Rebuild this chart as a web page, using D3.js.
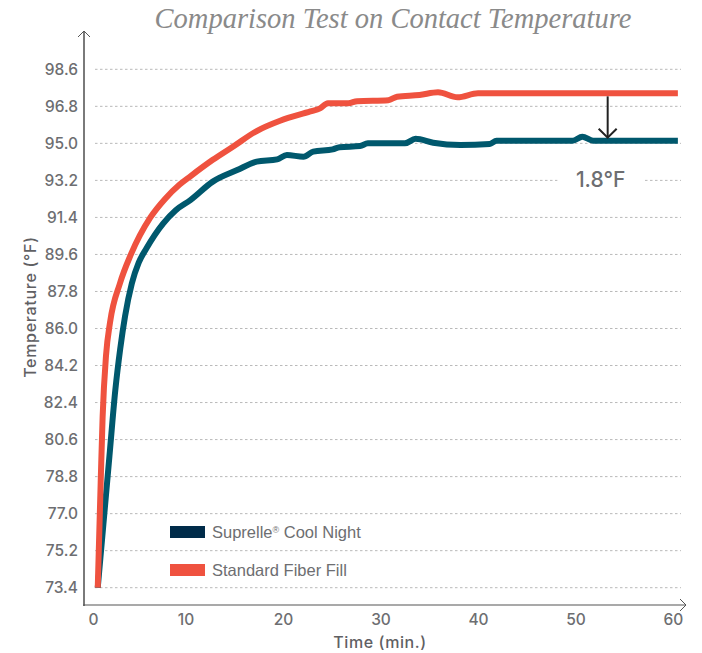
<!DOCTYPE html>
<html>
<head>
<meta charset="utf-8">
<script src="https://cdn.jsdelivr.net/npm/d3@7/dist/d3.min.js"></script>
<style>
  html, body { margin: 0; padding: 0; background: #fff; }
  svg { display: block; }
</style>
</head>
<body>
<script>
// ---- data ----
const title = "Comparison Test on Contact Temperature";
const yTickValues = [73.4, 75.2, 77.0, 78.8, 80.6, 82.4, 84.2, 86.0, 87.8, 89.6, 91.4, 93.2, 95.0, 96.8, 98.6];
const xTickValues = [0, 10, 20, 30, 40, 50, 60];
const seriesNames = ["Suprelle® Cool Night", "Standard Fiber Fill"];

const timeStandard = [1, 1.3, 1.5, 1.85, 2.26, 3.28, 4.4, 6.4, 7.9, 9.4, 10.5, 12.8, 14.9, 17.3, 19.7, 22.8, 23.8, 24.6, 26.7, 27.6, 30.8, 31.7, 34.0, 35.9, 37.9, 40.0, 60.5];
const valueStandard = [73.4, 78.5, 81.7, 84.7, 86.3, 88.2, 89.6, 91.4, 92.3, 93.0, 93.4, 94.2, 94.85, 95.6, 96.1, 96.55, 96.7, 96.95, 96.95, 97.05, 97.1, 97.27, 97.35, 97.48, 97.24, 97.43, 97.43];

const timeSuprelle = [1, 2.2, 2.8, 3.3, 3.8, 4.5, 5.2, 6.0, 7.7, 9.0, 10.5, 12.8, 15.3, 17.3, 19.4, 20.4, 22.1, 23.1, 25.1, 25.8, 27.9, 28.7, 32.5, 33.6, 35.4, 38.2, 41.2, 41.9, 49.7, 50.7, 51.8, 60.5];
const valueSuprelle = [73.4, 79.8, 83.0, 85.0, 86.6, 88.2, 89.2, 89.9, 91.1, 91.75, 92.24, 93.14, 93.7, 94.11, 94.22, 94.43, 94.35, 94.6, 94.71, 94.81, 94.87, 95.0, 95.0, 95.22, 95.03, 94.92, 94.97, 95.13, 95.13, 95.32, 95.13, 95.13];

const annotationTime = 53.3;
const annotationLabel = "1.8°F";

// ---- layout ----
const W = 702, H = 653;
const colors = { std: "#EF523F", sup: "#00586D", supLegend: "#002B49", text: "#6d6e71" };

const svg = d3.select("body").append("svg").attr("width", W).attr("height", H);

const x = d3.scaleLinear().domain([0, 60]).range([88, 673]);
const y = d3.scaleLinear().domain([73.4, 98.6]).range([587.7, 69.3]);

const fontMain = "Inter, 'Noto Sans', sans-serif";

// title
svg.append("text")
  .attr("x", 393).attr("y", 28)
  .attr("text-anchor", "middle")
  .attr("font-family", "'Liberation Serif', 'DejaVu Serif', serif")
  .attr("font-style", "italic")
  .attr("font-size", 29)
  .attr("fill", "#8a8a8a")
  .attr("textLength", 477)
  .attr("lengthAdjust", "spacingAndGlyphs")
  .text(title);

// gridlines
svg.append("g").selectAll("line").data(yTickValues).join("line")
  .attr("x1", 95).attr("x2", 681)
  .attr("y1", d => y(d)).attr("y2", d => y(d))
  .attr("stroke", "#b9b9b9").attr("stroke-width", 1)
  .attr("stroke-dasharray", "2.5,2.5");

// y axis labels
const yAxis = d3.axisLeft(y).tickValues(yTickValues).tickSize(0).tickPadding(6)
  .tickFormat(d3.format(".1f"));
const gy = svg.append("g").attr("transform", "translate(84,0)").call(yAxis);
gy.select(".domain").remove();
gy.selectAll("text")
  .attr("font-family", fontMain).attr("font-size", 15.5).attr("font-weight", 500)
  .attr("fill", colors.text);

// x axis labels
const xAxis = d3.axisBottom(x).tickValues(xTickValues).tickSize(0).tickPadding(0);
const gx = svg.append("g").attr("transform", "translate(0,605)").call(xAxis);
gx.select(".domain").remove();
gx.selectAll("text")
  .attr("dy", null).attr("y", 20)
  .attr("font-family", fontMain).attr("font-size", 15.5).attr("font-weight", 500)
  .attr("fill", colors.text);
gx.selectAll(".tick").filter(d => d === 0).select("text").attr("dx", 5);

// axis lines with arrows
svg.append("line").attr("x1", 84).attr("x2", 84).attr("y1", 606).attr("y2", 31)
  .attr("stroke", "#7a7a7a").attr("stroke-width", 2);
svg.append("path").attr("d", "M78,37 L84,31 L90,37").attr("fill", "none")
  .attr("stroke", "#555").attr("stroke-width", 1);
svg.append("line").attr("x1", 83).attr("x2", 686).attr("y1", 605).attr("y2", 605)
  .attr("stroke", "#555").attr("stroke-width", 1.2);
svg.append("path").attr("d", "M680,599 L686,605 L680,611").attr("fill", "none")
  .attr("stroke", "#555").attr("stroke-width", 1);

// axis titles
svg.append("text")
  .attr("transform", "translate(36,307) rotate(-90)")
  .attr("text-anchor", "middle")
  .attr("font-family", fontMain).attr("font-size", 16).attr("font-weight", 500)
  .attr("letter-spacing", 0.7)
  .attr("fill", "#5f6063")
  .text("Temperature (°F)");
svg.append("text")
  .attr("x", 380).attr("y", 648)
  .attr("text-anchor", "middle")
  .attr("font-family", fontMain).attr("font-size", 16).attr("font-weight", 500)
  .attr("letter-spacing", 0.6)
  .attr("fill", "#5f6063")
  .text("Time (min.)");

// lines
const line = d3.line().x(d => x(d[0])).y(d => y(d[1])).curve(d3.curveMonotoneX);
const stdData = timeStandard.map((t, i) => [t, valueStandard[i]]);
const supData = timeSuprelle.map((t, i) => [t, valueSuprelle[i]]);

svg.append("path").datum(supData).attr("d", line)
  .attr("fill", "none").attr("stroke", colors.sup).attr("stroke-width", 6)
  .attr("stroke-linejoin", "round");
svg.append("path").datum(stdData).attr("d", line)
  .attr("fill", "none").attr("stroke", colors.std).attr("stroke-width", 6)
  .attr("stroke-linejoin", "round");

// annotation
const ax = x(annotationTime);
const yTop = y(valueStandard[valueStandard.length - 1]) + 3;
const yBot = y(valueSuprelle[valueSuprelle.length - 1]) - 3;
svg.append("line").attr("x1", ax).attr("x2", ax).attr("y1", yTop).attr("y2", yBot)
  .attr("stroke", "#222").attr("stroke-width", 2);
svg.append("path")
  .attr("d", `M${ax - 9},${yBot - 9} L${ax},${yBot} L${ax + 9},${yBot - 9}`)
  .attr("fill", "none").attr("stroke", "#222").attr("stroke-width", 2);
svg.append("rect").attr("x", ax - 50).attr("y", 168).attr("width", 86).attr("height", 24)
  .attr("fill", "#fff");
svg.append("text")
  .attr("x", ax - 7).attr("y", 187)
  .attr("text-anchor", "middle")
  .attr("font-family", fontMain).attr("font-size", 21).attr("font-weight", 500)
  .attr("fill", colors.text)
  .text(annotationLabel);

// legend
const legendColors = [colors.supLegend, colors.std];
const legendY = [532, 570];
seriesNames.forEach((name, i) => {
  svg.append("rect").attr("x", 170).attr("y", legendY[i] - 6).attr("width", 35).attr("height", 12)
    .attr("fill", legendColors[i]);
  const t = svg.append("text")
    .attr("x", 212).attr("y", legendY[i] + 6)
    .attr("font-family", "'Liberation Sans', Arial, sans-serif").attr("font-size", 16.5)
    .attr("fill", colors.text);
  if (name.includes("®")) {
    const parts = name.split("®");
    t.append("tspan").text(parts[0]);
    t.append("tspan").attr("font-size", 9).attr("dy", -5).text("®");
    t.append("tspan").attr("dy", 5).text(parts[1]);
  } else {
    t.text(name);
  }
});
</script>
</body>
</html>
